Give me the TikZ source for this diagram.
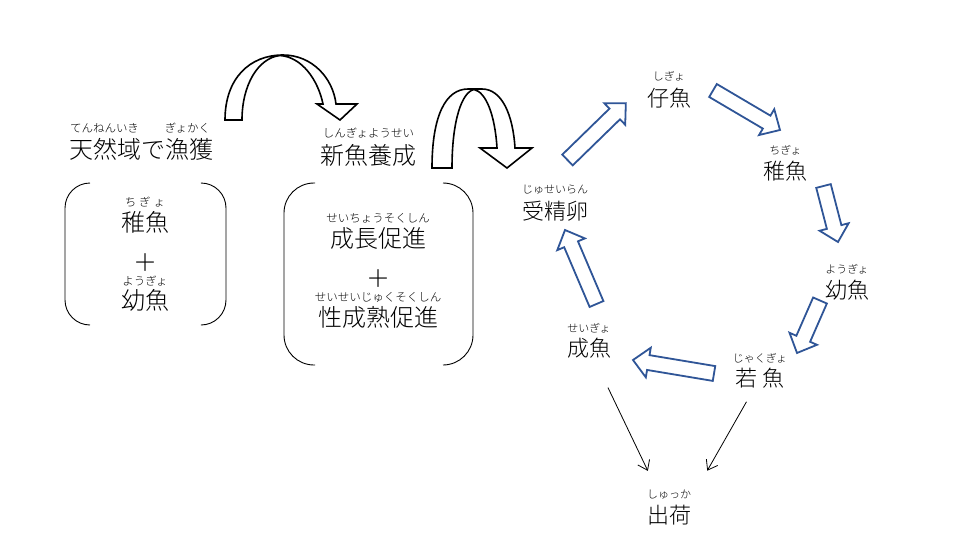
\documentclass[tikz,border=0pt]{standalone}
\usepackage{fontspec}
\setmainfont{Noto Sans CJK JP}[UprightFont=* Light]
\usetikzlibrary{arrows.meta,positioning,calc}
\definecolor{cycleblue}{RGB}{47,85,151}

% block arrow from tail (#1) to tip (#2)
\newcommand{\blkarrow}[2]{%
  \path (#1); \pgfgetlastxy{\bax}{\bay}%
  \path (#2); \pgfgetlastxy{\bbx}{\bby}%
  \pgfmathsetmacro\baang{atan2(\bby-\bay,\bbx-\bax)}%
  \pgfmathsetmacro\balen{veclen(\bbx-\bax,\bby-\bay)}%
  \draw[blkarrow,shift={(#1)},rotate=\baang] (0,-7.5) -- (\balen-15.5,-7.5)
    -- (\balen-15.5,-15) -- (\balen,0) -- (\balen-15.5,15) -- (\balen-15.5,7.5)
    -- (0,7.5) -- cycle;}

\begin{document}
\begin{tikzpicture}[x=1pt,y=-1pt]
\tikzstyle{bigword}=[inner sep=0pt,font=\fontsize{24pt}{24pt}\selectfont,
text height=20.6pt,text depth=2.4pt]
\tikzstyle{word}=[inner sep=0pt,font=\fontsize{22pt}{22pt}\selectfont,
text height=18.9pt,text depth=2.2pt]
\tikzstyle{ruby}=[inner sep=0pt,font=\fontsize{11.5pt}{11.5pt}\selectfont,
text height=9.2pt,text depth=0.6pt]
\tikzstyle{rubys}=[inner sep=0pt,font=\fontsize{11pt}{11pt}\selectfont,
text height=8.8pt,text depth=0.6pt]
\tikzstyle{bracket}=[line width=0.9pt]
\tikzstyle{bendarrow}=[line width=1.6pt,fill=white,line join=miter]
\tikzstyle{blkarrow}=[line width=1.8pt,draw=cycleblue,fill=white,line join=miter]
\tikzstyle{thinarrow}=[line width=0.8pt,-{Straight Barb[length=9pt,width=13pt]}]

\useasboundingbox (0,0) rectangle (967,546);

% left part
\node[bigword] (catch) at (141,149) {天然域で漁獲};
\node[ruby] (catchR1) at (104.5,128) {てんねんいき};
\node[ruby] (catchR2) at (187.5,128) {ぎょかく};

\node[bigword] (chigyoL) at (145,222) {稚魚};
\node[ruby] (chigyoLR) at ([yshift=20pt]chigyoL.center) {ち\hspace{3pt}ぎ\hspace{3pt}ょ};
\node[bigword] (plusL) at (145,262) {＋};
\node[bigword] (yogyoL) at (145,300) {幼魚};
\node[ruby] (yogyoLR) at ([yshift=19pt]yogyoL.center) {ようぎょ};

\draw[bracket,rounded corners=25pt] (90,183) -- (65,183) -- (65,325) -- (90,325);
\draw[bracket,rounded corners=25pt] (202,183) -- (226,183) -- (226,325) -- (202,325);

% middle part
\node[bigword] (rear) at (368.5,155) {新魚養成};
\node[ruby] (rearR) at ([yshift=22pt]rear.center) {しんぎょようせい};

\node[bigword] (grow) at (378,238) {成長促進};
\node[ruby] (growR) at ([yshift=20pt]grow.center) {せいちょうそくしん};
\node[bigword] (plusM) at (378,278) {＋};
\node[bigword] (mature) at (378,317) {性成熟促進};
\node[ruby] (matureR) at ([yshift=20pt]mature.center) {せいせいじゅくそくしん};

\draw[bracket,rounded corners=30pt] (315,183) -- (284,183) -- (284,365) -- (315,365);
\draw[bracket,rounded corners=30pt] (443,183) -- (473,183) -- (473,365) -- (443,365);

% bent arrows
\draw[bendarrow] (225,120) .. controls (225,78) and (250,55) .. (283,55)
  .. controls (312,55) and (333,78) .. (336,104) -- (357,104) -- (340,120)
  -- (317,104) -- (323,104) .. controls (318,80) and (302,57) .. (280,55.5)
  .. controls (258,58) and (242,85) .. (242,120) -- cycle;
\draw[bendarrow] (432,168) .. controls (432,115) and (446,89) .. (468,89)
  -- (482,89) .. controls (502,89) and (513,115) .. (515,148) -- (532,148)
  -- (507,168) -- (480,148) -- (497,148) .. controls (495,115) and (486,92) .. (474,89.5)
  .. controls (462,92) and (452,120) .. (452,168) -- cycle;

% life cycle
\node[word] (egg) at (555,211) {受精卵};
\node[rubys] (eggR) at ([yshift=22pt]egg.center) {じゅせいらん};
\node[word] (fry) at (669,98) {仔魚};
\node[rubys] (fryR) at ([yshift=22pt]fry.center) {しぎょ};
\node[word] (chigyo) at (785.5,171) {稚魚};
\node[rubys] (chigyoR) at ([yshift=21pt]chigyo.center) {ちぎょ};
\node[word] (yogyo) at (847,290) {幼魚};
\node[rubys] (yogyoR) at ([yshift=21pt]yogyo.center) {ようぎょ};
\node[word] (wakagyo) at (760,378) {若 魚};
\node[rubys] (wakagyoR) at ([yshift=20pt]wakagyo.center) {じゃくぎょ};
\node[word] (seigyo) at (589,348) {成魚};
\node[rubys] (seigyoR) at ([yshift=20pt]seigyo.center) {せいぎょ};
\node[word] (shukka) at (669,515) {出荷};
\node[rubys] (shukkaR) at ([yshift=21pt]shukka.center) {しゅっか};

\coordinate (a1s) at (567.5,160); \coordinate (a1e) at (626,103);
\coordinate (a2s) at (713,90.5);  \coordinate (a2e) at (780,130);
\coordinate (a3s) at (823.5,186); \coordinate (a3e) at (838,242);
\coordinate (a4s) at (820,300.5); \coordinate (a4e) at (797,353);
\coordinate (a5s) at (714,373.5); \coordinate (a5e) at (633,360);
\coordinate (a6s) at (596.5,304); \coordinate (a6e) at (565,230);

\blkarrow{a1s}{a1e}
\blkarrow{a2s}{a2e}
\blkarrow{a3s}{a3e}
\blkarrow{a4s}{a4e}
\blkarrow{a5s}{a5e}
\blkarrow{a6s}{a6e}

\draw[thinarrow,shorten <=32pt,shorten >=37pt] (seigyo) -- (shukka);
\draw[thinarrow,shorten <=15pt,shorten >=51pt] (wakagyo) -- ($(shukka)+(13,0)$);

\end{tikzpicture}
\end{document}
